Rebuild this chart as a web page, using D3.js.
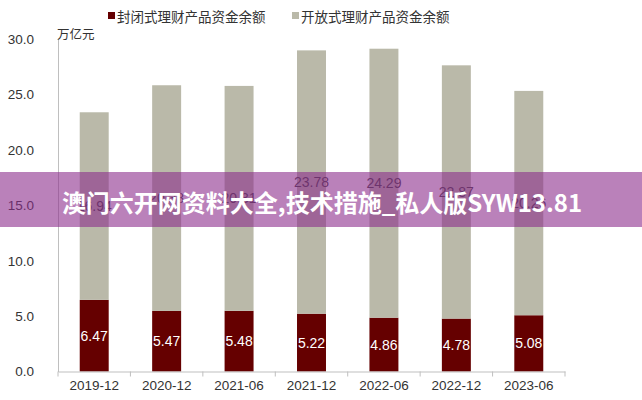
<!DOCTYPE html>
<html><head><meta charset="utf-8">
<script src="https://cdn.jsdelivr.net/npm/d3@7"></script>
<style>body{margin:0;background:#fff}svg{display:block}</style>
</head><body>
<svg id="c" width="642" height="400"></svg>
<script>
const categories = ["2019-12","2020-12","2021-06","2021-12","2022-06","2022-12","2023-06"];
const closedValues = [6.47,5.47,5.48,5.22,4.86,4.78,5.08];
const openValues = [16.94,20.38,20.31,23.78,24.29,22.87,20.26];
const yTicks = [0,5,10,15,20,25,30];
const seriesNames = ["封闭式理财产品资金余额","开放式理财产品资金余额"];
const unitLabel = "万亿元";
const bannerText = "澳门六开网资料大全,技术措施_私人版SYW13.81";

const svg = d3.select("#c");
const latin = "'Liberation Sans', Arial, 'Noto Sans CJK SC', sans-serif";
const cjk = "'Noto Sans CJK SC', 'Liberation Sans', sans-serif";
const colClosed = "#650000", colOpen = "#bab9a9";
const x0 = 58, x1 = 565, yTop = 39.3, yBot = 371.5;

const x = d3.scaleBand().domain(categories).range([x0, x1]).paddingInner(0.6).paddingOuter(0.3);
const y = d3.scaleLinear().domain([0, 30]).range([yBot, yTop]);

const data = categories.map((c,i)=>({c, closed: closedValues[i], open: openValues[i]}));

// bars
const g = svg.append("g");
g.selectAll("rect.cl").data(data).join("rect")
  .attr("x", d=>x(d.c)).attr("width", x.bandwidth())
  .attr("y", d=>y(d.closed)).attr("height", d=>y(0)-y(d.closed))
  .attr("fill", colClosed);
g.selectAll("rect.op").data(data).join("rect")
  .attr("x", d=>x(d.c)).attr("width", x.bandwidth())
  .attr("y", d=>y(d.closed+d.open)).attr("height", d=>y(d.closed)-y(d.closed+d.open))
  .attr("fill", colOpen);

// value labels
g.selectAll("text.cl").data(data).join("text")
  .attr("x", d=>x(d.c)+x.bandwidth()/2).attr("y", d=>y(d.closed/2))
  .attr("text-anchor","middle").attr("dominant-baseline","central")
  .attr("font-family", latin).attr("font-size", 14).attr("fill","#fff")
  .text(d=>d.closed.toFixed(2));
g.selectAll("text.op").data(data).join("text")
  .attr("x", d=>x(d.c)+x.bandwidth()/2).attr("y", d=>y(d.closed+d.open/2))
  .attr("text-anchor","middle").attr("dominant-baseline","central")
  .attr("font-family", latin).attr("font-size", 14).attr("fill","#404040")
  .text(d=>d.open.toFixed(2));

// y axis
const ya = svg.append("g").attr("transform", `translate(${x0},0)`)
  .call(d3.axisLeft(y).tickValues(yTicks).tickFormat(d3.format(".1f")).tickSize(0).tickPadding(24));
ya.select(".domain").attr("stroke","#bfbfbf");
ya.selectAll("text").attr("font-family", latin).attr("font-size", 13.5).attr("fill","#333");

// x axis
const xa = svg.append("g").attr("transform", `translate(0,${yBot})`)
  .call(d3.axisBottom(x).tickSize(0).tickPadding(9));
xa.select(".domain").attr("stroke","#bfbfbf");
xa.selectAll("text").attr("font-family", latin).attr("font-size", 13.5).attr("fill","#333");
const bounds = d3.range(categories.length+1).map(i=>x0 + i*(x1-x0)/categories.length);
svg.append("g").selectAll("line").data(bounds).join("line")
  .attr("x1", d=>d).attr("x2", d=>d).attr("y1", yBot).attr("y2", yBot+5)
  .attr("stroke","#bfbfbf");

// unit label
svg.append("text").attr("x", 57).attr("y", 33).attr("dominant-baseline","central")
  .attr("font-family", cjk).attr("font-size", 12.5).attr("fill","#333").text(unitLabel);

// legend
const leg = [{n:seriesNames[0], c:colClosed, x:108},{n:seriesNames[1], c:colOpen, x:292}];
const lg = svg.append("g");
lg.selectAll("rect").data(leg).join("rect")
  .attr("x", d=>d.x).attr("y", 12).attr("width", 7).attr("height", 7).attr("fill", d=>d.c);
lg.selectAll("text").data(leg).join("text")
  .attr("x", d=>d.x+9).attr("y", 16).attr("dominant-baseline","central")
  .attr("font-family", cjk).attr("font-size", 13.5).attr("fill","#333").text(d=>d.n);

// watermark banner
svg.append("rect").attr("x",0).attr("y",172).attr("width",642).attr("height",55)
  .attr("fill","rgb(140,45,140)").attr("opacity",0.6);
svg.append("text").attr("x", 322).attr("y", 201).attr("text-anchor","middle").attr("dominant-baseline","central")
  .attr("font-family", "'Noto Sans CJK SC', sans-serif").attr("font-weight","bold").attr("font-size", 24)
  .attr("fill","#fff").text(bannerText);
</script>
</body></html>
